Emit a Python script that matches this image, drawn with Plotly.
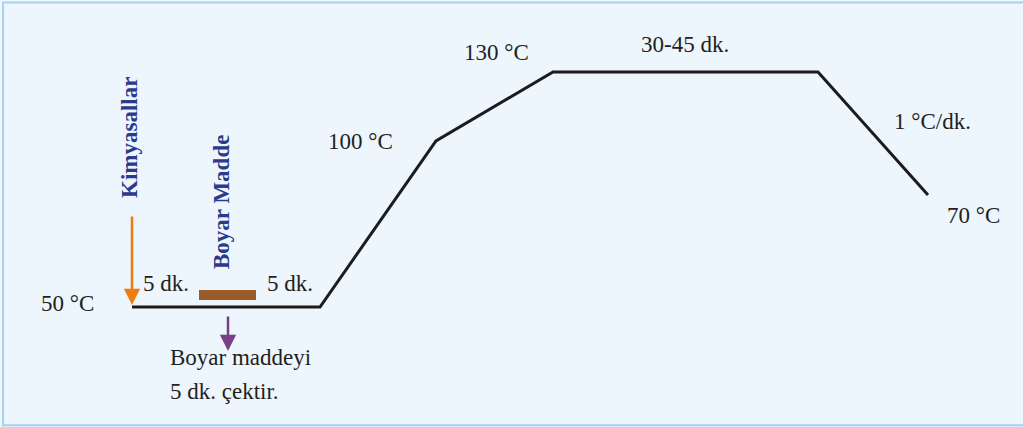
import plotly.graph_objects as go

# Process profile (schematic time position vs temperature level)
stage_x = [132, 320, 436, 553, 818, 928]
level_y = [120, 120, 286, 355, 355, 232]

# Temperature / duration labels
label_text = ["50 °C", "5 dk.", "5 dk.", "100 °C", "130 °C", "30-45 dk.", "1 °C/dk.", "70 °C"]
label_x = [67, 166, 290, 360, 496, 685, 932, 973]
label_y = [124, 144, 144, 286, 375, 383, 306, 212]

note_lines = ["Boyar maddeyi", "5 dk. çektir."]
note_x = [168, 168]
note_y = [70, 36]

vertical_labels = ["Kimyasallar", "Boyar Madde"]
vertical_x = [129, 221]
vertical_y = [289, 225]

BG = "#edf5fd"
SERIF = "Liberation Serif"
FS = 23

fig = go.Figure()
fig.add_trace(go.Scatter(x=stage_x, y=level_y, mode="lines",
                         line=dict(color="#1c1c1c", width=3), hoverinfo="skip",
                         showlegend=False))

ann = []
for t, x, y in zip(label_text, label_x, label_y):
    ann.append(dict(x=x, y=y, text=t, showarrow=False, xref="x", yref="y",
                    font=dict(family=SERIF, size=FS, color="#231f20")))
for t, x, y in zip(note_lines, note_x, note_y):
    ann.append(dict(x=x, y=y, text=t, showarrow=False, xref="x", yref="y",
                    xanchor="left", font=dict(family=SERIF, size=FS, color="#231f20")))
for t, x, y in zip(vertical_labels, vertical_x, vertical_y):
    ann.append(dict(x=x, y=y, text="<b>" + t + "</b>", showarrow=False, xref="x", yref="y",
                    textangle=-90, font=dict(family=SERIF, size=FS, color="#2b3a8c")))

# Orange arrow (chemicals added)
ann.append(dict(x=132, y=122, ax=132, ay=212, xref="x", yref="y", axref="x", ayref="y",
                text="", showarrow=True, arrowhead=2, arrowsize=1.3, arrowwidth=2.5,
                arrowcolor="#ec7d0f"))
# Purple arrow (dye uptake)
ann.append(dict(x=228, y=76, ax=228, ay=112, xref="x", yref="y", axref="x", ayref="y",
                text="", showarrow=True, arrowhead=2, arrowsize=1.3, arrowwidth=2.5,
                arrowcolor="#7b3f85"))

shapes = [
    dict(type="rect", xref="paper", yref="paper", x0=0.003, y0=0.004, x1=1.02, y1=0.994,
         line=dict(color="#a6d3ea", width=2), fillcolor="rgba(0,0,0,0)"),
    dict(type="rect", xref="x", yref="y", x0=199, x1=256, y0=127, y1=137,
         fillcolor="#9a5b28", line=dict(width=0)),
]

fig.update_layout(
    width=1023, height=427,
    margin=dict(l=0, r=0, t=0, b=0),
    paper_bgcolor=BG, plot_bgcolor=BG,
    xaxis=dict(range=[0, 1023], visible=False, fixedrange=True),
    yaxis=dict(range=[0, 427], visible=False, fixedrange=True),
    annotations=ann, shapes=shapes,
)
fig.write_html("out.html", config={"displayModeBar": False},
               post_script="document.body.style.margin='0';document.body.style.overflow='hidden';")
